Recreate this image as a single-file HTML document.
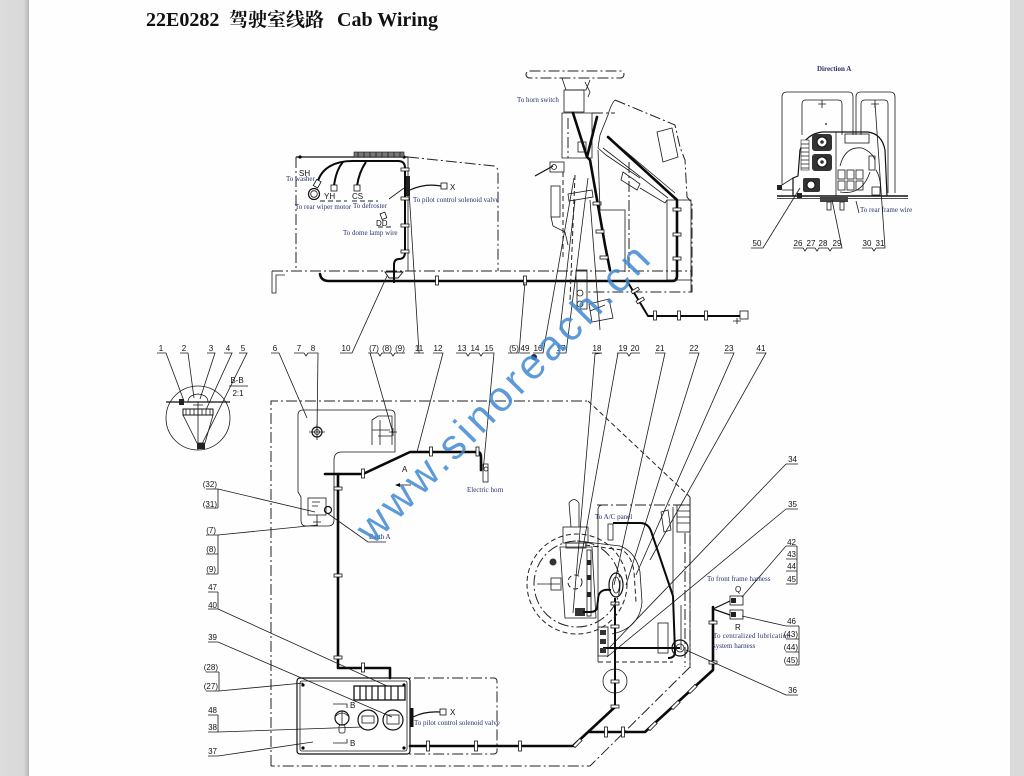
<!DOCTYPE html>
<html><head><meta charset="utf-8">
<style>
html,body{margin:0;padding:0;width:1024px;height:776px;overflow:hidden;background:#fff}
svg{display:block}
.t{fill:none;stroke:#1a1a1a;stroke-width:.8}
.m{fill:none;stroke:#111;stroke-width:1.2}
.k{fill:none;stroke:#0a0a0a;stroke-width:2.6;stroke-linejoin:round;stroke-linecap:round}
.k2{fill:none;stroke:#0a0a0a;stroke-width:2;stroke-linejoin:round}
.d{fill:none;stroke:#222;stroke-width:1;stroke-dasharray:11 3 2 3}
.ds{fill:none;stroke:#222;stroke-width:1;stroke-dasharray:5 3}
.c{fill:#fff;stroke:#111;stroke-width:.8}
.n{font-family:"Liberation Sans Narrow","Liberation Sans",sans-serif;font-size:8px;fill:#111}
.s{font-family:"Liberation Serif",serif;font-size:7px;fill:#27306a}
</style></head><body>
<svg width="1024" height="776" viewBox="0 0 1024 776" xmlns="http://www.w3.org/2000/svg">
<defs>
<linearGradient id="lg" x1="0" x2="1"><stop offset="0" stop-color="#dcdcdc"/><stop offset="0.82" stop-color="#d8d8d8"/><stop offset="1" stop-color="#b5b5b5"/></linearGradient>
</defs>
<rect width="1024" height="776" fill="#fefefe"/>
<rect x="0" y="0" width="29" height="776" fill="url(#lg)"/>
<rect x="1010" y="0" width="14" height="776" fill="#dadada"/>

<!-- Title -->
<g font-weight="bold" fill="#111">
<text x="146" y="26" font-family="'Liberation Serif',serif" font-size="20">22E0282</text>
<text x="229" y="26" font-family="'Liberation Serif','Noto Serif CJK SC','Noto Sans CJK SC',serif" font-size="19">驾驶室线路</text>
<text x="337" y="26" font-family="'Liberation Serif',serif" font-size="20">Cab Wiring</text>
</g>

<!-- ================= TOP-LEFT CAB ================= -->
<path class="m" d="M296,157 L408,157"/>
<circle cx="300" cy="157" r="1.6"/><circle cx="404" cy="157" r="1.6"/>
<path class="d" d="M296,157 L296,271"/>
<path class="t" d="M408,157 L408,271"/>
<rect x="354" y="152" width="50" height="5" fill="#777" stroke="#111" stroke-width=".6"/>
<path class="t" d="M358,152 v5 M364,152 v5 M370,152 v5 M376,152 v5 M382,152 v5 M388,152 v5 M394,152 v5 M400,152 v5" stroke="#eee"/>
<path class="d" d="M408,157 L494,166 Q498,167 498,172 L498,271"/>
<path class="d" d="M272,271 L692,271"/>
<path class="t" d="M272,271 L272,293 L276,293 L276,275 L285,275"/>
<path class="k" d="M320,274 Q321,281 329,281 L672,281 Q677,281 677,276 L677,200 L608,137"/>
<rect class="c" x="435.5" y="276" width="3" height="9"/>
<rect class="c" x="523.5" y="276" width="3" height="9"/>
<rect class="c" x="673" y="208" width="8" height="3"/>
<rect class="c" x="673" y="233" width="8" height="3"/>
<rect class="c" x="673" y="257" width="8" height="3"/>
<path d="M385,272 L403,272 L398,278 L389,278 Z" fill="#fff" stroke="#111" stroke-width=".9"/>
<!-- cab harness -->
<path class="k2" d="M318,181 C322,168 335,161 352,161 L398,161 Q405,161 405,168 L405,252 Q405,259 399,259 Q394,259 394,265 L394,283"/>
<path class="k2" d="M343,162 Q336,170 334,186"/>
<path class="k2" d="M366,162 Q359,172 357,186"/>
<rect class="c" x="331" y="185" width="6" height="6"/>
<rect class="c" x="354" y="185" width="6" height="6"/>
<rect class="c" x="315" y="180" width="5" height="7" transform="rotate(30 317 183)"/>
<circle class="m" cx="314" cy="194" r="5.5"/><circle class="t" cx="314" cy="194" r="3.3"/>
<rect class="c" x="401" y="168" width="8" height="3"/>
<rect class="c" x="401" y="197" width="8" height="3"/>
<rect class="c" x="401" y="224" width="8" height="3"/>
<rect class="c" x="401" y="250" width="8" height="3"/>
<rect x="406" y="176" width="4" height="20" fill="#222"/>
<path class="m" d="M410,190 Q425,183 441,186"/>
<rect class="c" x="441" y="183" width="6" height="6"/>
<path class="t" d="M389,199 L404,188"/>
<path class="ds" d="M320,201 L347,201 M352,201 L378,201 M378,227 L392,227"/>
<rect class="c" x="381" y="213" width="5" height="6" transform="rotate(-20 383 216)"/>
<text class="n" x="299" y="176" font-size="6">SH</text>
<text class="s" x="286" y="181">To washer</text>
<text class="n" x="324" y="199" font-size="6">YH</text>
<text class="n" x="352" y="199" font-size="6">CS</text>
<text class="s" x="295" y="209">To rear wiper motor</text>
<text class="s" x="353" y="208">To defroster</text>
<text class="n" x="376" y="226" font-size="6">DD</text>
<text class="s" x="343" y="235">To dome lamp wire</text>
<text class="n" x="450" y="190" font-size="6">X</text>
<text class="s" x="413" y="202">To pilot control solenoid valve</text>

<!-- ================= TOP-MIDDLE STEERING / CONSOLE ================= -->
<rect class="d" x="526" y="71" width="98" height="7" rx="3.5"/>
<text class="s" x="517" y="102">To horn switch</text>
<path class="t" d="M562,78 L566,90 L586,90 L590,80 M585,82 L590,92 L588,97"/>
<rect class="t" x="564" y="90" width="20" height="22"/>
<path class="t" d="M562,158 L562,113 L592,113 L592,158 Z"/>
<path class="d" d="M568,118 L568,158 M592,113 L615,113"/>
<path class="k" d="M573,113 L587,157 M597,117 L587,157 L590,160 L605,245 L610,270"/>
<rect class="c" x="593" y="202" width="8" height="3"/>
<rect class="c" x="596" y="230" width="8" height="3"/>
<rect class="c" x="600" y="256" width="8" height="3"/>
<rect class="t" x="578" y="142" width="8" height="10"/>
<!-- console -->
<path class="t" d="M615,100 Q611,104 608,115 L600,135 L598,148 L606,155 L640,178"/>
<path class="d" d="M615,100 L675,125 L680,147 L685,160 L687,197 L692,203 L692,292 L585,292"/>
<path class="t" d="M603,148 L668,198 M612,140 L675,193"/>
<path class="t" d="M598,150 L600,210 L625,210 L625,272"/>
<path class="d" d="M629,162 L629,270"/>
<rect class="t" x="667" y="200" width="24" height="80"/>
<path class="t" d="M691,272 L691,292"/>
<polygon class="t" points="657,132 672,128 678,157 663,162"/>
<path class="t" d="M623,172 L640,184 L637,190 L621,180 Z"/>
<path class="t" d="M640,188 L665,203 L667,200"/>
<!-- left steering assembly -->
<path class="m" d="M535,176 L553,166"/>
<rect class="t" x="550" y="162" width="14" height="10"/>
<circle class="t" cx="554" cy="167" r="2.5"/>
<rect class="t" x="551" y="186" width="9" height="31"/>
<path class="t" d="M551,217 L553,226 L565,232 L568,245"/>
<path class="ds" d="M563,172 L563,260 M575,175 L570,300"/>
<polygon class="t" points="568,194 592,190 593,197 569,201"/>
<path class="t" d="M575,200 L560,330 M590,200 L600,330"/>
<!-- lower column bits -->
<rect class="t" x="576" y="270" width="11" height="10"/>
<rect class="t" x="577" y="281" width="10" height="28"/>
<circle class="t" cx="580" cy="293" r="3"/><circle class="t" cx="580" cy="304" r="3"/>
<polygon class="t" points="589,304 609,299 613,318 592,322"/>
<path class="t" d="M590,311 L605,305"/>
<!-- lower right harness -->
<path class="k2" d="M627,281 L648,316 L740,316"/>
<rect class="c" x="631" y="289" width="8" height="3" transform="rotate(-30 635 290)"/>
<rect class="c" x="636" y="299" width="8" height="3" transform="rotate(-30 640 300)"/>
<rect class="c" x="653.5" y="311" width="3" height="9"/>
<rect class="c" x="677.5" y="311" width="3" height="9"/>
<rect class="c" x="704.5" y="311" width="3" height="9"/>
<rect class="c" x="740" y="311" width="8" height="8"/>
<path class="t" d="M733,321 h8 M737,318 v6"/>

<!-- ================= DIRECTION A ================= -->
<text class="s" x="817" y="71" font-weight="bold">Direction A</text>
<path class="t" d="M782,185 L782,97 Q782,92 787,92 L849,92 Q853,92 853,97 L853,135"/>
<path class="t" d="M856,135 L856,97 Q856,92 861,92 L890,92 Q895,92 895,97 L895,193"/>
<path class="t" d="M802,135 L802,104 Q802,100 806,100 L838,100 Q842,100 842,104 L842,135"/>
<path class="t" d="M861,135 L861,104 Q861,100 865,100 L884,100 Q888,100 888,104 L888,193"/>
<path class="t" d="M818,104 h8 M822,100 v8 M871,104 h8 M875,100 v8"/>
<circle cx="826" cy="124" r="0.9"/>
<path d="M777,196 L908,196" stroke="#111" stroke-width="1.4"/>
<path class="t" d="M777,198.5 L908,198.5"/>
<path class="m" d="M793,196 L793,178 L798,176 L800,150 Q806,134 822,132 L868,132 Q882,134 885,150 L887,196"/>
<path class="t" d="M782,185 L793,178 M782,190 L793,190"/>
<rect x="801" y="140" width="8" height="30" fill="#fff" stroke="#222" stroke-width=".6"/>
<path class="t" d="M801,144 h8 M801,148 h8 M801,152 h8 M801,156 h8 M801,160 h8 M801,164 h8 M801,168 h8"/>
<rect x="812" y="134" width="20" height="17" rx="3" fill="#333"/>
<circle cx="822" cy="142" r="5" fill="#fff" stroke="#111"/><circle cx="822" cy="142" r="1.8" fill="#333"/>
<rect x="812" y="154" width="20" height="17" rx="3" fill="#333"/>
<circle cx="822" cy="162" r="5" fill="#fff" stroke="#111"/><circle cx="822" cy="162" r="1.8" fill="#333"/>
<rect x="803" y="178" width="17" height="14" rx="2" fill="#333"/>
<circle cx="811" cy="185" r="4" fill="#fff" stroke="#111"/>
<path class="t" d="M836,132 L836,196"/>
<rect class="t" x="845" y="134" width="24" height="9"/>
<path class="t" d="M840,166 Q845,146 862,148 Q872,152 875,160"/>
<rect class="t" x="869" y="156" width="6" height="14"/>
<rect class="t" x="838" y="170" width="7" height="9"/><rect class="t" x="847" y="170" width="7" height="9"/><rect class="t" x="856" y="170" width="7" height="9"/>
<rect class="t" x="838" y="181" width="7" height="9"/><rect class="t" x="847" y="181" width="7" height="9"/><rect class="t" x="856" y="181" width="7" height="9"/>
<path class="t" d="M840,192 Q862,196 870,172 M876,170 Q882,180 880,195"/>
<rect class="t" x="872" y="187" width="8" height="8"/>
<rect x="820" y="197" width="28" height="5" fill="#444"/>
<rect class="t" x="827" y="202" width="4" height="8"/><rect class="t" x="840" y="202" width="4" height="8"/>
<rect x="797" y="193" width="5" height="5" fill="#222"/>
<rect x="777" y="185" width="5" height="5" fill="#222"/>
<text class="s" x="860" y="212">To rear frame wire</text>
<path class="t" d="M856,201 L859,213"/>
<g class="n" text-anchor="middle">
<text x="757" y="246">50</text>
<text x="798" y="246">26</text><text x="811" y="246">27</text><text x="823" y="246">28</text><text x="837" y="246">29</text>
<text x="867" y="246">30</text><text x="880" y="246">31</text>
</g>
<path class="t" d="M751,248 L763,248 L800,188"/>
<path class="t" d="M793,248 L803,248 L805,251 L807,248 L815,248 L817,251 L819,248 L828,248 L830,251 L832,248 L842,248 L832,200"/>
<path class="t" d="M862,248 L872,248 L874,251 L876,248 L885,248 L875,103"/>

<!-- ================= ROW LABELS ================= -->
<g class="n" text-anchor="middle">
<text x="161" y="351">1</text><text x="184" y="351">2</text><text x="211" y="351">3</text><text x="228" y="351">4</text><text x="243" y="351">5</text>
<text x="275" y="351">6</text><text x="299" y="351">7</text><text x="313" y="351">8</text>
<text x="346" y="351">10</text><text x="374" y="351">(7)</text><text x="387" y="351">(8)</text><text x="400" y="351">(9)</text>
<text x="419" y="351">11</text><text x="438" y="351">12</text>
<text x="462" y="351">13</text><text x="475" y="351">14</text><text x="489" y="351">15</text>
<text x="514" y="351">(5)</text><text x="525" y="351">49</text><text x="538" y="351">16</text><text x="561" y="351">17</text>
<text x="597" y="351">18</text><text x="623" y="351">19</text><text x="635" y="351">20</text>
<text x="660" y="351">21</text><text x="694" y="351">22</text><text x="729" y="351">23</text><text x="761" y="351">41</text>
</g>
<circle cx="534" cy="357" r="3" fill="#1a2a5a"/>
<path class="t" d="
M157,353 L166,353 L184,401
M180,353 L188,353 L194,398
M207,353 L215,353 L200,399
M224,353 L232,353 L205,412
M239,353 L247,353 L200,448
M271,353 L279,353 L307,418
M294,353 L304,353 L306,356 L308,353 L318,353 L317,432
M340,353 L352,353 L387,276
M368,353 L378,353 L380,356 L382,353 L391,353 L393,356 L395,353 L405,353 M370,353 L393,433
M414,353 L424,353 M419,353 L409,190
M433,353 L443,353 L417,452
M456,353 L466,353 L468,356 L470,353 L479,353 L481,356 L483,353 L494,353 L483,472
M508,353 L519,353 L525,282 M520,353 L530,353
M533,353 L543,353 L574,178
M556,353 L566,353 L588,178
M592,353 L602,353 L595,354 L573,613
M617,353 L627,353 L629,356 L631,353 L640,353 M618,353 L578,575
M655,353 L665,353 L614,585
M689,353 L699,353 L626,585
M724,353 L734,353 L636,575
M756,353 L766,353 L650,560"/>

<!-- B-B detail -->
<text class="n" x="237" y="383" text-anchor="middle">B-B</text>
<path class="t" d="M229,386 L248,386"/>
<text class="n" x="238" y="396" text-anchor="middle">2:1</text>
<circle class="t" cx="198" cy="418" r="32"/>
<path class="m" d="M166,402 L230,402"/>
<path class="t" d="M188,402 Q188,395 198,394 Q208,395 208,402"/>
<rect x="179" y="399" width="5" height="6" fill="#222"/>
<rect x="183" y="409" width="30" height="6" fill="#fff" stroke="#111"/>
<path class="t" d="M186,409 v6 M190,409 v6 M194,409 v6 M198,409 v6 M202,409 v6 M206,409 v6 M210,409 v6"/>
<path class="t" d="M183,415 L213,415 L205,443 L197,443 Z M198,402 L198,450 M193,405 h10"/>
<rect x="197" y="443" width="8" height="6" fill="#222"/>

<!-- ================= MAIN LOWER DRAWING ================= -->
<path class="d" d="M271,766 L271,401 L588,401"/>
<path class="ds" d="M588,401 L690,497"/>
<path class="d" d="M690,497 L690,667 M690,667 L590,766 L271,766"/>
<!-- panel 6 outline -->
<path class="t" d="M298,415 Q298,410 303,410 L390,410 Q395,410 395,415 L395,452 L342,452 Q334,452 334,460 L334,520 Q334,526 328,526 L306,526 Q301,526 301,520 L301,497 L298,492 Z"/>
<circle class="m" cx="317" cy="432" r="5"/><circle class="t" cx="317" cy="432" r="2.5"/>
<path class="t" d="M317,424 v16 M309,432 h16"/>
<path class="t" d="M372,445 L372,420 L378,416 L392,416 L392,445 M372,430 L390,430 M380,420 L380,445 M378,436 L392,436"/>
<path class="t" d="M389,432 h8 M393,428 v8"/>
<rect class="t" x="308" y="498" width="18" height="17"/>
<path class="t" d="M312,502 h8 M312,506 h6 M317,515 v11 M313,522 h8"/>
<circle class="m" cx="328" cy="510" r="3.5"/>
<!-- left harness -->
<path class="k" d="M325,474 L363,474 L410,452 L478,452 Q481,452 481,458 L481,470"/>
<path class="k" d="M338,474 L338,668 L390,668 L390,678"/>
<rect class="c" x="361.5" y="469" width="3" height="9"/>
<rect class="c" x="429.5" y="447" width="3" height="9"/>
<rect class="c" x="476" y="447" width="3" height="9"/>
<rect class="c" x="334" y="487" width="8" height="3"/>
<rect class="c" x="334" y="574" width="8" height="3"/>
<rect class="c" x="334" y="656" width="8" height="3"/>
<rect class="c" x="361.5" y="663" width="3" height="9"/>
<rect class="t" x="483" y="464" width="5" height="18"/>
<circle class="t" cx="486" cy="469" r="2"/>
<text class="s" x="467" y="492">Electric horn</text>
<text class="n" x="402" y="472" font-size="6">A</text>
<path class="t" d="M411,485 L396,485"/>
<path d="M395,485 L400,483 L400,487 Z" fill="#111"/>
<!-- Earth A -->
<path class="t" d="M327,513 L368,542 L386,542"/>
<text class="s" x="369" y="539">Earth A</text>

<!-- left label column -->
<g class="n" text-anchor="end">
<text x="217" y="487">(32)</text><text x="217" y="507">(31)</text>
<text x="216" y="533">(7)</text><text x="216" y="552">(8)</text><text x="216" y="572">(9)</text>
<text x="217" y="590">47</text><text x="217" y="608">40</text><text x="217" y="640">39</text>
<text x="218" y="670">(28)</text><text x="218" y="689">(27)</text>
<text x="217" y="713">48</text><text x="217" y="730">38</text><text x="217" y="754">37</text>
</g>
<path class="t" d="
M206,489 L218,489 L315,512 M206,508 L218,508 M218,489 L218,508
M206,535 L218,535 L318,525 M206,554 L218,554 M206,574 L218,574 M218,535 L218,574
M208,592 L218,592 M208,609 L218,609 M218,592 L218,609 M218,609 L387,686
M208,642 L218,642 L392,717
M206,672 L219,672 M206,691 L219,691 M219,672 L219,691 M219,691 L303,683
M208,715 L218,715 M208,732 L218,732 M218,715 L218,732 M218,732 L362,727
M208,756 L218,756 L313,742"/>

<!-- control box -->
<rect class="d" x="297" y="678" width="200" height="76" rx="3"/>
<rect class="m" x="297" y="678" width="113" height="76" rx="3"/>
<rect class="t" x="300" y="681" width="107" height="70" rx="2"/>
<circle cx="303" cy="685" r="1.6"/><circle cx="404" cy="685" r="1.6"/><circle cx="303" cy="748" r="1.6"/><circle cx="404" cy="748" r="1.6"/>
<rect x="354" y="686" width="51" height="14" fill="#fff" stroke="#111" stroke-width="1.3"/>
<path class="m" d="M360,686 v14 M366,686 v14 M372,686 v14 M378,686 v14 M385,686 v14 M391,686 v14 M398,686 v14"/>
<circle class="m" cx="342" cy="718" r="7"/>
<path class="t" d="M336,716 Q342,710 348,716 M342,711 v14"/>
<rect class="t" x="339" y="725" width="6" height="8" rx="2"/>
<circle class="m" cx="368" cy="720" r="10"/><rect class="t" x="362" y="716" width="12" height="7"/>
<circle class="m" cx="393" cy="720" r="10"/><rect class="t" x="387" y="715" width="12" height="9"/>
<path class="t" d="M333,704 L347,704 L347,708 M333,743 L347,743 L347,739"/>
<text class="n" x="350" y="708" font-size="6">B</text>
<text class="n" x="350" y="746" font-size="6">B</text>
<rect x="410" y="708" width="3.5" height="19" fill="#111"/>
<path class="m" d="M413,717 Q425,711 440,712"/>
<rect class="c" x="440" y="709" width="6" height="6"/>
<text class="n" x="450" y="715" font-size="6">X</text>
<text class="s" x="414" y="725">To pilot control solenoid valve</text>

<!-- bottom harness -->
<path class="k" d="M410,746 L573,746 L615,707"/>
<path class="k" d="M713,607 L713,670 L645,732 L590,732"/>
<path class="k2" d="M615,707 L615,598"/>
<rect class="c" x="426.5" y="741" width="3" height="10"/>
<rect class="c" x="474.5" y="741" width="3" height="10"/>
<rect class="c" x="518.5" y="741" width="3" height="10"/>
<rect class="c" x="576" y="738" width="3" height="10" transform="rotate(45 577.5 743)"/>
<rect class="c" x="604.5" y="727" width="3" height="10"/>
<rect class="c" x="621.5" y="727" width="3" height="10"/>
<rect class="c" x="651" y="721" width="3" height="10" transform="rotate(45 652.5 726)"/>
<rect class="c" x="674" y="700" width="3" height="10" transform="rotate(45 675.5 705)"/>
<rect class="c" x="691" y="684" width="3" height="10" transform="rotate(45 692.5 689)"/>
<rect class="c" x="709" y="621" width="8" height="3"/>
<rect class="c" x="709" y="661" width="8" height="3"/>
<rect class="c" x="611" y="602" width="8" height="3"/>
<rect class="c" x="611" y="625" width="8" height="3"/>
<rect class="c" x="611" y="680" width="8" height="3"/>
<rect class="c" x="611" y="705" width="8" height="3"/>
<circle class="t" cx="615" cy="681" r="12"/>
<!-- connectors Q R -->
<path class="m" d="M713,609 L730,601 M713,609 L730,615"/>
<rect class="c" x="730" y="596" width="13" height="9"/><rect x="731" y="598" width="5" height="5" fill="#222"/>
<rect class="c" x="730" y="610" width="13" height="9"/><rect x="731" y="612" width="5" height="5" fill="#222"/>
<text class="n" x="735" y="592" font-size="6">Q</text>
<text class="n" x="735" y="630" font-size="6">R</text>
<text class="s" x="707" y="581">To front frame harness</text>
<text class="s" x="713" y="638" textLength="77" lengthAdjust="spacing">To centralized lubrication</text>
<text class="s" x="713" y="648">system harness</text>

<!-- joystick + circle -->
<path class="t" d="M571,527 L569,503 Q574,496 579,503 L579,527"/>
<rect class="t" x="563" y="527" width="25" height="16"/>
<rect class="t" x="566" y="543" width="20" height="5"/>
<circle class="ds" cx="577" cy="584" r="50"/>
<circle class="d" cx="577" cy="584" r="43"/>
<path class="t" d="M560,547 L592,547 L596,618 L565,618 Z"/>
<rect x="587" y="550" width="4" height="66" fill="#fff" stroke="#111" stroke-width=".8"/>
<rect x="587" y="560" width="4" height="5" fill="#222"/><rect x="587" y="575" width="4" height="5" fill="#222"/><rect x="587" y="592" width="4" height="5" fill="#222"/>
<circle cx="553" cy="562" r="3.5" fill="#333"/>
<path class="t" d="M537,584 L560,584"/>
<rect class="t" x="551" y="578" width="10" height="12"/>
<circle class="ds" cx="575" cy="582" r="7"/>
<rect x="575" y="608" width="10" height="8" fill="#333"/>
<!-- A/C panel area -->
<path class="d" d="M597,505 L690,505"/>
<path class="t" d="M598,542 L598,510 Q598,505 603,505"/>
<rect class="t" x="608" y="524" width="5" height="16"/>
<text class="s" x="595" y="519" fill="#6a3a2a">To A/C panel</text>
<path class="k2" d="M613,523 L640,523 Q648,523 651,531 L673,596 L675,652 Q675,658 668,658"/>
<path class="k2" d="M603,648 L680,648"/>
<ellipse class="m" cx="616" cy="585" rx="7" ry="12"/>
<ellipse class="t" cx="616" cy="585" rx="3.5" ry="8"/>
<path class="k2" d="M611,590 Q598,588 598,600 L597,608 Q596,612 590,612 L583,612"/>
<path class="t" d="M577,541 L620,546 Q636,552 640,572 L642,602 Q640,628 612,634"/>
<path class="ds" d="M585,545 L622,550 Q632,556 634,572 L636,602"/>
<path class="t" d="M673,507 L673,596 M681,605 L681,650 M690,505 L690,668"/>
<path class="d" d="M685,533 L685,667"/>
<rect class="t" x="677" y="505" width="13" height="27"/>
<path class="t" d="M677,511 h13 M677,517 h13 M677,523 h13"/>
<polygon class="t" points="661,512 668,510 671,530 664,532"/>
<rect class="t" x="658" y="623" width="10" height="30"/>
<circle class="m" cx="680" cy="648" r="8"/><circle class="t" cx="680" cy="648" r="4"/>
<rect class="t" x="598" y="627" width="10" height="29"/>
<rect x="600" y="630" width="6" height="5" fill="#333"/><rect x="600" y="639" width="6" height="5" fill="#333"/><rect x="600" y="648" width="6" height="5" fill="#333"/>
<path class="t" d="M598,540 L598,662"/>
<path class="ds" d="M598,662 L673,662"/>

<!-- right labels -->
<g class="n" text-anchor="end">
<text x="797" y="462">34</text><text x="797" y="507">35</text>
<text x="796" y="545">42</text><text x="796" y="557">43</text><text x="796" y="569">44</text><text x="796" y="582">45</text>
<text x="796" y="624">46</text><text x="798" y="637">(43)</text><text x="798" y="650">(44)</text><text x="798" y="663">(45)</text>
<text x="797" y="693">36</text>
</g>
<path class="t" d="
M786,464 L798,464 M786,464 L610,647
M786,509 L798,509 M786,509 L607,657
M786,546 L797,546 M786,559 L797,559 M786,571 L797,571 M786,584 L797,584 M797,546 L797,584 M786,546 L742,597
M786,626 L799,626 M786,639 L799,639 M786,652 L799,652 M786,665 L799,665 M799,626 L799,665 M786,626 L742,616
M786,695 L798,695 M786,695 L686,650"/>

<!-- watermark -->
<text x="514" y="402" text-anchor="middle" transform="rotate(-45.5 514 402)" font-family="'Liberation Sans',sans-serif" font-size="42" letter-spacing="4" fill="#3f88d2" fill-opacity="0.85">www.sinoreach.cn</text>
</svg>
</body></html>
